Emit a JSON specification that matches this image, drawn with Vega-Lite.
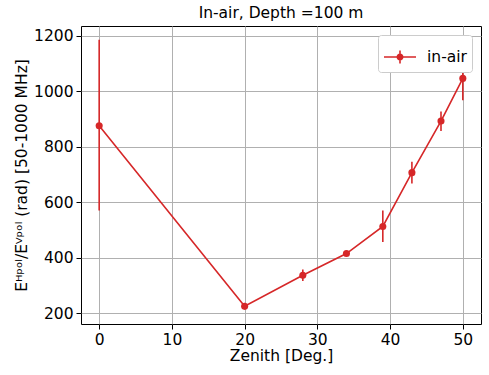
{
  "$schema": "https://vega.github.io/schema/vega-lite/v6.json",
  "width": 400,
  "height": 298,
  "autosize": {"type": "none"},
  "padding": {"left": 81, "top": 26, "right": 8, "bottom": 51},
  "title": {"text": "In-air, Depth =100 m", "fontSize": 15.5, "fontWeight": "normal", "font": "DejaVu Sans", "color": "black", "offset": 5},
  "config": {
    "font": "DejaVu Sans",
    "view": {"stroke": "black", "strokeWidth": 1},
    "axis": {
      "labelFont": "DejaVu Sans", "labelFontSize": 15.5, "labelColor": "black",
      "titleFont": "DejaVu Sans", "titleFontSize": 15.5, "titleFontWeight": "normal", "titleColor": "black",
      "domain": false, "tickColor": "black", "tickSize": 5, "labelPadding": 3,
      "grid": true, "gridColor": "#b0b0b0", "gridWidth": 1
    }
  },
  "data": {"values": [
    {"zenith": 0, "ratio": 876, "lo": 570, "hi": 1186, "series": "in-air"},
    {"zenith": 20, "ratio": 225, "lo": 213, "hi": 237, "series": "in-air"},
    {"zenith": 28, "ratio": 337, "lo": 316, "hi": 358, "series": "in-air"},
    {"zenith": 34, "ratio": 415, "lo": 408, "hi": 422, "series": "in-air"},
    {"zenith": 39, "ratio": 513, "lo": 457, "hi": 570, "series": "in-air"},
    {"zenith": 43, "ratio": 707, "lo": 668, "hi": 746, "series": "in-air"},
    {"zenith": 47, "ratio": 893, "lo": 857, "hi": 928, "series": "in-air"},
    {"zenith": 50, "ratio": 1047, "lo": 968, "hi": 1126, "series": "in-air"}
  ]},
  "encoding": {
    "x": {"field": "zenith", "type": "quantitative", "title": "Zenith [Deg.]",
      "scale": {"domain": [-2.5, 52.5], "nice": false, "zero": false},
      "axis": {"values": [0, 10, 20, 30, 40, 50], "titlePadding": 1}},
    "y": {"field": "ratio", "type": "quantitative", "title": "Eᴴᵖᵒˡ/Eⱽᵖᵒˡ (rad) [50-1000 MHz]",
      "scale": {"domain": [161, 1236], "nice": false, "zero": false},
      "axis": {"values": [200, 400, 600, 800, 1000, 1200], "format": "d", "titlePadding": 4}}
  },
  "layer": [
    {
      "mark": {"type": "rule", "strokeWidth": 1.6, "color": "#d62728"},
      "encoding": {"y": {"field": "lo", "type": "quantitative"}, "y2": {"field": "hi"}}
    },
    {
      "mark": {"type": "line", "strokeWidth": 1.6, "color": "#d62728"}
    },
    {
      "mark": {"type": "point", "filled": true, "size": 50, "opacity": 1},
      "encoding": {
        "color": {"field": "series", "type": "nominal", "scale": {"range": ["#d62728"]},
          "legend": {
            "title": null, "orient": "top-right", "offset": 9,
            "symbolType": "M-1,0H1M0,-0.4V0.4M0.17,0A0.17,0.17 0 1,1 -0.17,0A0.17,0.17 0 1,1 0.17,0Z",
            "symbolSize": 1024, "symbolStrokeWidth": 1.6, "symbolFillColor": "#d62728", "symbolStrokeColor": "#d62728",
            "labelFontSize": 15.5, "labelFont": "DejaVu Sans", "labelColor": "black", "labelOffset": 10,
            "fillColor": "white", "strokeColor": "#cccccc", "cornerRadius": 3, "padding": 5
          }}
      }
    }
  ]
}
